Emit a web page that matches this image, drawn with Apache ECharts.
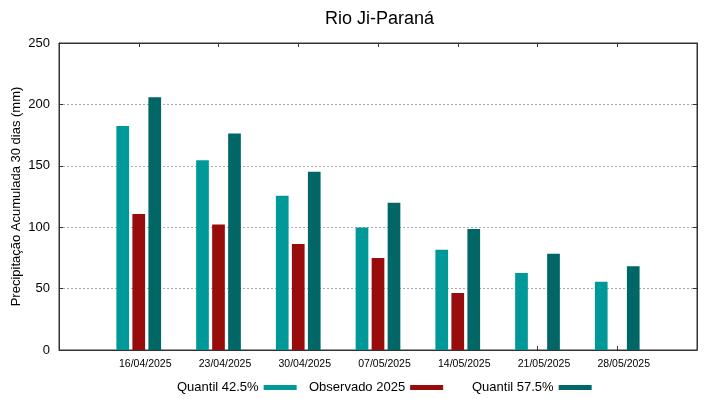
<!DOCTYPE html>
<html>
<head>
<meta charset="utf-8">
<script src="https://cdn.jsdelivr.net/npm/echarts@6/dist/echarts.min.js"></script>
<style>html,body{margin:0;padding:0;background:#fff}#c{width:719px;height:399px}</style>
</head>
<body>
<div id="c"></div>
<script>
const categories = ['16/04/2025','23/04/2025','30/04/2025','07/05/2025','14/05/2025','21/05/2025','28/05/2025'];
const q425 = [182.4, 154.5, 125.7, 99.8, 81.7, 62.7, 55.6];
const obs2025 = [110.7, 102.3, 86.3, 75.0, 46.4, null, null];
const q575 = [205.8, 176.4, 145.2, 120.0, 98.5, 78.4, 68.2];
const yTicks = [0, 50, 100, 150, 200, 250];

const FONT = 'Liberation Sans, Arial, sans-serif';
const toPairs = arr => arr.map((v, i) => [i, v]);

const chart = echarts.init(document.getElementById('c'), null, {renderer: 'canvas'});
const axisColor = '#333';
const legendBase = {
  orient: 'horizontal', align: 'right', icon: 'rect', padding: 0,
  itemWidth: 33, itemHeight: 5, top: 381,
  textStyle: {fontFamily: FONT, fontSize: 13, color: '#000'},
  selectedMode: false
};
chart.setOption({
  animation: false,
  backgroundColor: '#fff',
  title: {
    text: 'Rio Ji-Paraná', left: 320, top: 5,
    textStyle: {fontFamily: FONT, fontSize: 18, fontWeight: 'normal', color: '#000'}
  },
  legend: [
    Object.assign({}, legendBase, {left: 177, data: ['Quantil 42.5%']}),
    Object.assign({}, legendBase, {left: 309, data: ['Observado 2025']}),
    Object.assign({}, legendBase, {left: 472, data: ['Quantil 57.5%']})
  ],
  grid: {left: 59, right: 22, top: 43, bottom: 49, show: true, borderColor: axisColor, borderWidth: 1,
         containLabel: false, outerBoundsMode: 'none'},
  xAxis: [{
    type: 'value', min: -1, max: 7, interval: 1, position: 'bottom',
    axisLine: {show: true, onZero: false, lineStyle: {color: axisColor}},
    axisTick: {show: true, inside: true, length: 4, lineStyle: {color: axisColor}},
    splitLine: {show: false},
    axisLabel: {
      fontFamily: FONT, fontSize: 10.5, color: '#000', margin: 9, padding: [0, 0, 0, 13],
      formatter: v => (v >= 0 && v < categories.length && Number.isInteger(v)) ? categories[v] : ''
    }
  }, {
    type: 'value', min: -1, max: 7, interval: 1, position: 'top',
    axisLine: {show: true, onZero: false, lineStyle: {color: axisColor}},
    axisTick: {show: true, inside: true, length: 4, lineStyle: {color: axisColor}},
    splitLine: {show: false}, axisLabel: {show: false}
  }],
  yAxis: [{
    type: 'value', min: yTicks[0], max: yTicks[yTicks.length - 1], interval: 50, position: 'left',
    name: 'Precipitação Acumulada 30 dias (mm)', nameLocation: 'middle', nameGap: 36, nameRotate: 90,
    nameMoveOverlap: false,
    nameTextStyle: {fontFamily: FONT, fontSize: 13, color: '#000'},
    axisLine: {show: true, onZero: false, lineStyle: {color: axisColor}},
    axisTick: {show: true, inside: true, length: 4, lineStyle: {color: axisColor}},
    axisLabel: {fontFamily: FONT, fontSize: 13, color: '#000', margin: 9},
    splitLine: {show: true, lineStyle: {color: '#aaa', type: [2, 2], width: 1}}
  }, {
    type: 'value', min: yTicks[0], max: yTicks[yTicks.length - 1], interval: 50, position: 'right',
    axisLine: {show: true, onZero: false, lineStyle: {color: axisColor}},
    axisTick: {show: true, inside: true, length: 4, lineStyle: {color: axisColor}},
    axisLabel: {show: false}, splitLine: {show: false}
  }],
  series: [
    {name: 'Quantil 42.5%', type: 'bar', data: toPairs(q425), barWidth: 12.7, barGap: '26%', itemStyle: {color: '#009999'}},
    {name: 'Observado 2025', type: 'bar', data: toPairs(obs2025), barWidth: 12.7, barGap: '26%', itemStyle: {color: '#990c0c'}},
    {name: 'Quantil 57.5%', type: 'bar', data: toPairs(q575), barWidth: 12.7, barGap: '26%', itemStyle: {color: '#006666'}}
  ]
});
</script>
</body>
</html>
